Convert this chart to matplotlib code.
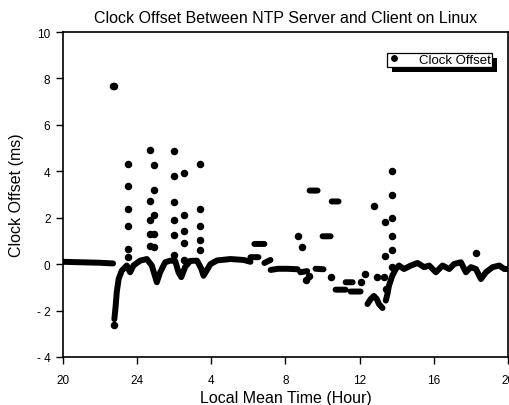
import numpy as np
import matplotlib
matplotlib.use('Agg')
import matplotlib.pyplot as plt
from matplotlib.patches import Rectangle
from matplotlib.transforms import IdentityTransform

plt.rcParams['font.family'] = ['Liberation Sans', 'DejaVu Sans']

nan = np.nan

# Hora local (h desde las 20:00 del primer día) y desfase (ms)
# Trazos densos (puntos contiguos) separados por nan
trace_t = [20.0, 21.0, 22.0, 22.7, nan,
           22.77, 22.84, 22.90, 23.0, 23.17, 23.44, 23.62, 23.80, 24.16, 24.52,
           24.79, 25.06, 25.24, 25.51, 25.78, 26.05, 26.23, 26.38, 26.59, 26.86,
           27.23, 27.46, 27.58, 27.73, 27.95, 28.31, 29.03, 29.75, 30.11, nan,
           30.11, 30.54, nan, 30.32, 30.86, nan, 30.86, 31.19, nan,
           31.2, 31.6, 32.1, 32.65, nan, 32.8, 33.17, nan, 33.62, 34.05, nan,
           34.7, 35.24, nan, 35.24, 35.62, nan, 35.51, 36.05, nan,
           33.3, 33.73, nan, 34.0, 34.43, nan, 34.49, 34.86, nan,
           36.42, 36.6, 36.77, 36.92, 37.04, 37.23, nan,
           37.41, 37.5, 37.58, 37.76, 37.95, 38.12, 38.39, 38.76, 39.12, 39.48,
           39.75, 40.11, 40.47, 40.83, 41.1, 41.46, 41.73, 42.0, 42.27, 42.54,
           42.81, 43.17, 43.53, 43.8, 44.0]
trace_v = [0.1, 0.08, 0.06, 0.03, nan,
           -2.37, -1.80, -1.20, -0.64, -0.28, -0.06, -0.35, -0.06, 0.15, 0.22,
           -0.06, -0.78, -0.35, 0.08, 0.15, 0.14, -0.35, -0.56, -0.12, 0.14,
           0.15, -0.2, -0.5, -0.3, 0.0, 0.16, 0.22, 0.18, 0.1, nan,
           0.3, 0.3, nan, 0.87, 0.87, nan, 0.05, 0.18, nan,
           -0.25, -0.2, -0.2, -0.22, nan, -0.35, -0.3, nan, -0.2, -0.22, nan,
           -1.1, -1.1, nan, -0.78, -0.78, nan, -1.18, -1.18, nan,
           3.17, 3.17, nan, 1.2, 1.2, nan, 2.7, 2.7, nan,
           -1.72, -1.5, -1.37, -1.5, -1.72, -1.89, nan,
           -1.57, -1.28, -0.93, -0.5, -0.21, -0.06, -0.21, -0.06, 0.05, -0.13,
           -0.06, -0.35, -0.06, -0.21, 0.01, 0.08, -0.35, -0.13, -0.21, -0.64,
           -0.35, -0.13, -0.06, -0.21, -0.21]

# Puntos aislados
dots_t = [22.70, 22.74, 22.76,
          23.48, 23.48, 23.53, 23.53, 23.53, 23.53,
          24.70, 24.70, 24.70, 24.70, 24.70,
          24.92, 24.92, 24.92, 24.92, 24.92,
          25.96, 25.96, 25.96, 25.96, 25.96, 25.96,
          26.54, 26.54, 26.54, 26.54, 26.54,
          27.41, 27.41, 27.41, 27.41, 27.41,
          32.69, 32.9, 33.08, 33.26, 34.43, 36.05, 36.29,
          36.77, 36.95, 37.31, 37.35, 37.35, 37.41,
          37.77, 37.77, 37.77, 37.77, 37.77, 37.77, 42.27]
dots_v = [7.69, 7.69, -2.63,
          4.32, 3.36, 2.38, 1.66, 0.66, 0.32,
          4.92, 2.74, 1.92, 1.30, 0.80,
          4.29, 3.2, 2.12, 1.32, 0.73,
          4.87, 3.79, 2.69, 1.9, 1.26, 0.40,
          3.92, 2.12, 1.44, 0.91, 0.18,
          4.31, 2.37, 1.63, 1.06, 0.6,
          1.23, 0.73, -0.67, -0.52, -0.57, -0.78, -0.42,
          2.5, -0.57, -0.57, 1.8, 0.34, -1.07,
          4.03, 3.0, 1.99, 1.2, 0.63, -0.13, 0.48]

x_ticks = [20, 24, 28, 32, 36, 40, 44]
x_labels = ['20', '24', '4', '8', '12', '16', '20']
y_ticks = [-4, -2, 0, 2, 4, 6, 8, 10]
y_labels = ['- 4', '- 2', '0', '2', '4', '6', '8', '10']

fig = plt.figure(figsize=(5.09, 4.06), dpi=100)
ax = fig.add_axes([63 / 509, 48 / 406, 445 / 509, 325 / 406])

ax.plot(trace_t, trace_v, color='k', lw=4.3, solid_capstyle='round',
        solid_joinstyle='round')
pts, = ax.plot(dots_t, dots_v, 'o', color='k', ms=4.4, label='Clock Offset')

ax.set_xlim(20, 44)
ax.set_ylim(-4, 10)
ax.set_xticks(x_ticks)
ax.set_xticklabels(x_labels)
ax.set_yticks(y_ticks)
ax.set_yticklabels(y_labels)
ax.tick_params(axis='both', direction='out', length=5, width=1, labelsize=8.5)
ax.tick_params(axis='x', pad=7)
ax.tick_params(axis='y', pad=4)
for s in ax.spines.values():
    s.set_linewidth(1.2)

ax.set_title('Clock Offset Between NTP Server and Client on Linux',
             fontsize=11.5, pad=7)
ax.set_xlabel('Local Mean Time (Hour)', fontsize=11.5, labelpad=3)
ax.set_ylabel('Clock Offset (ms)', fontsize=11.5, labelpad=9)

leg = ax.legend(handles=[pts], loc='upper right', bbox_to_anchor=(0.964, 0.935),
                frameon=True, fancybox=False, shadow=False, fontsize=9.5,
                framealpha=1, handlelength=1.0, handletextpad=1.4,
                borderpad=0.05, borderaxespad=0, markerscale=0.9)
leg.get_frame().set_edgecolor('black')
leg.get_frame().set_linewidth(0.9)

# sombra negra desplazada, como en el original
fig.canvas.draw()
bb = leg.get_window_extent()
ax.add_patch(Rectangle((bb.x0 + 5, bb.y0 - 5), bb.width, bb.height,
                       transform=IdentityTransform(), facecolor='black',
                       edgecolor='none', zorder=4.9, clip_on=False))

fig.savefig('out.png', dpi=100)
